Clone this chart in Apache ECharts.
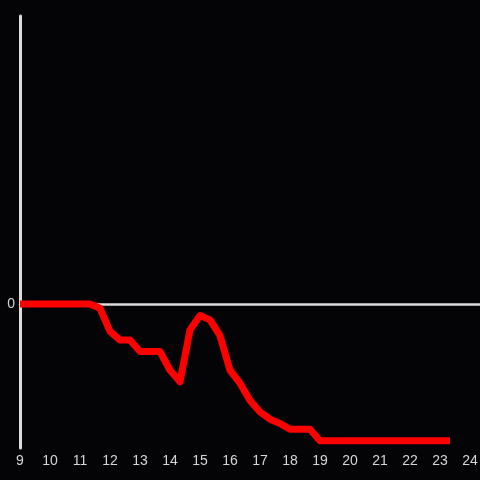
<!DOCTYPE html>
<html>
<head>
<meta charset="utf-8">
<script src="https://cdn.jsdelivr.net/npm/echarts@6/dist/echarts.min.js"></script>
<style>
  html, body { margin: 0; padding: 0; background: #040306; }
  #chart { width: 480px; height: 480px; }
</style>
</head>
<body>
<div id="chart"></div>
<script>
// sample times (every 20 min)
const times = ["09:00", "09:20", "09:40", "10:00", "10:20", "10:40", "11:00", "11:20", "11:40",
  "12:00", "12:20", "12:40", "13:00", "13:20", "13:40", "14:00", "14:20", "14:40",
  "15:00", "15:20", "15:40", "16:00", "16:20", "16:40", "17:00", "17:20", "17:40",
  "18:00", "18:20", "18:40", "19:00", "19:20", "19:40", "20:00", "20:20", "20:40",
  "21:00", "21:20", "21:40", "22:00", "22:20", "22:40", "23:00", "23:20"];
const values = [0, 0, 0, 0, 0, 0, 0, 0, -3,
  -19, -25, -25, -33, -33, -33, -46, -54, -18,
  -8, -11, -22, -46, -55, -67, -75, -80, -83,
  -87, -87, -87, -95, -95, -95, -95, -95, -95,
  -95, -95, -95, -95, -95, -95, -95, -95];
const xTicks = [9, 10, 11, 12, 13, 14, 15, 16, 17, 18, 19, 20, 21, 22, 23, 24];
const yTicks = [0];

const toHours = t => { const p = t.split(":"); return +p[0] + +p[1] / 60; };
const points = times.map((t, i) => [toHours(t), values[i]]);

const chart = echarts.init(document.getElementById("chart"));
const axisColor = "#dcdcdc";
const labelColor = "#d6d6d6";

chart.setOption({
  backgroundColor: "#040306",
  animation: false,
  grid: { left: 20, right: 0, top: 16, bottom: 32, containLabel: false, outerBoundsMode: "none" },
  xAxis: [
    {
      // zero line
      type: "value", min: 9, max: 24 + 1 / 3, interval: 1,
      axisLine: { show: true, onZero: true, lineStyle: { color: axisColor, width: 2.5 } },
      axisTick: { show: false },
      axisLabel: { show: false },
      splitLine: { show: false }
    },
    {
      type: "value", position: "bottom", min: 9, max: 24 + 1 / 3, interval: 1,
      axisLine: { show: false, onZero: false },
      axisTick: { show: false },
      splitLine: { show: false },
      axisLabel: {
        color: labelColor, fontSize: 14, fontFamily: "Liberation Sans", margin: 6,
        hideOverlap: false,
        formatter: v => (xTicks.includes(v) ? String(v) : "")
      }
    }
  ],
  yAxis: {
    type: "value", min: -100, max: 200, interval: 100,
    axisLine: { show: true, onZero: false, lineStyle: { color: axisColor, width: 3 } },
    axisTick: { show: false },
    splitLine: { show: false },
    axisLabel: {
      color: labelColor, fontSize: 14, fontFamily: "Liberation Sans", margin: 5,
      formatter: v => (yTicks.includes(v) ? String(v) : "")
    }
  },
  series: [
    {
      type: "line",
      xAxisIndex: 0,
      data: points,
      showSymbol: false,
      lineStyle: { color: "#ff0000", width: 7, join: "round" },
      z: 3
    }
  ]
});
</script>
</body>
</html>
